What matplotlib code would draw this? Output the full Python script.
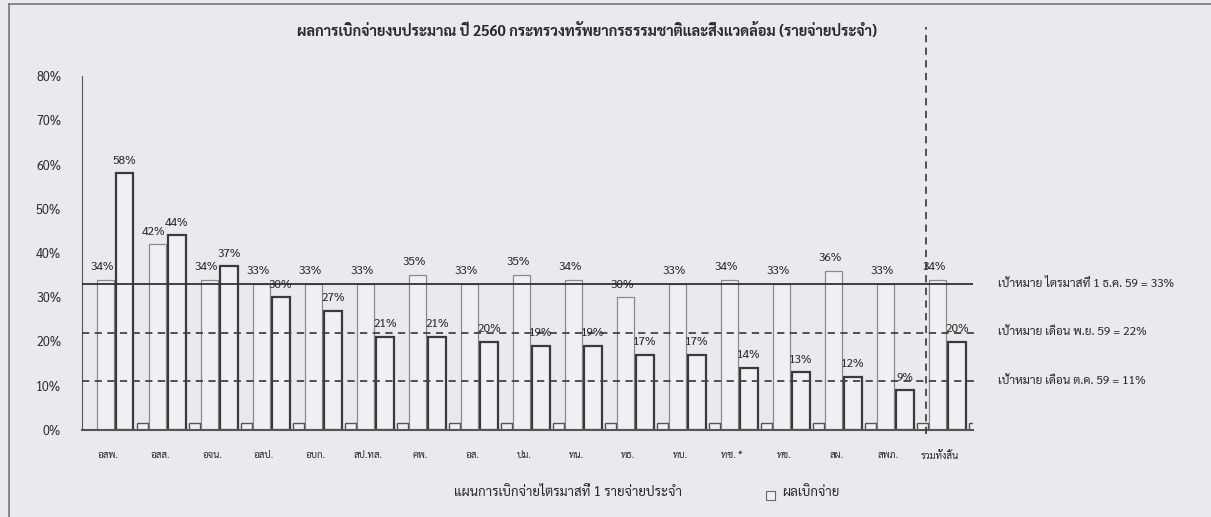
import matplotlib
matplotlib.use("Agg")
import matplotlib.pyplot as plt
import numpy as np
from matplotlib import font_manager
from matplotlib.lines import Line2D
from matplotlib.patches import Rectangle

# agencies (last group is the ministry total)
agencies = ["อสพ.", "อสส.", "อจน.", "อสป.", "อบก.", "สป.ทส.", "คพ.", "อส.",
            "ปม.", "ทน.", "ทธ.", "ทบ.", "ทช. *", "ทข.", "สผ.", "สพภ.",
            "รวมทั้งสิ้น"]
plan_q1 = [34, 42, 34, 33, 33, 33, 35, 33, 35, 34, 30, 33, 34, 33, 36, 33, 34]
spent = [58, 44, 37, 30, 27, 21, 21, 20, 19, 19, 17, 17, 14, 13, 12, 9, 20]
floor_series = [1.5, 1.5, 1.5, 1.5, 1.5, 1.5, 1.5, 1.5, 1.5, 1.5, 1.5, 1.5,
                1.5, 1.5, 1.5, 1.5, 1.5]
targets = [33, 22, 11]
target_labels = ["เป้าหมาย ไตรมาสที่ 1 ธ.ค. 59 = 33%",
                 "เป้าหมาย เดือน พ.ย. 59 = 22%",
                 "เป้าหมาย เดือน ต.ค. 59 = 11%"]
yticks = [0, 10, 20, 30, 40, 50, 60, 70, 80]

BG = "#e9e9ee"


def pick_thai_font():
    names = {f.name for f in font_manager.fontManager.ttflist}
    for name in ["Sarabun", "Noto Sans Thai", "Tahoma", "Bai Jamjuree",
                 "Anuphan"]:
        if name in names:
            return name
    return "DejaVu Sans"


def main():
    plt.rcParams["font.family"] = [pick_thai_font(), "DejaVu Sans"]
    plt.rcParams["text.color"] = "#2a2a2a"
    plt.rcParams["xtick.color"] = "#2a2a2a"
    plt.rcParams["ytick.color"] = "#2a2a2a"

    fig = plt.figure(figsize=(12.11, 5.17), dpi=100, facecolor=BG)
    ax = fig.add_axes([82 / 1211, 87 / 517, 891 / 1211, 354 / 517])
    ax.set_facecolor(BG)

    x = np.arange(len(agencies))
    ax.bar(x - 0.05, plan_q1, width=0.34, facecolor="#f0f0f4",
           edgecolor="#8a8a8a", linewidth=0.9, zorder=2)
    ax.bar(x + 0.32, spent, width=0.34, facecolor="#f0f0f4",
           edgecolor="#3a3a3a", linewidth=1.6, zorder=2)
    ax.bar(x + 0.66, floor_series, width=0.22, facecolor="#f0f0f4",
           edgecolor="#555555", linewidth=1.0, zorder=2)

    for xi, v in zip(x, plan_q1):
        ax.text(xi - 0.12, v + 1.5, "{}%".format(v), ha="center",
                va="bottom", fontsize=8.5, zorder=4)
    for xi, v in zip(x, spent):
        ax.text(xi + 0.32, v + 1.5, "{}%".format(v), ha="center",
                va="bottom", fontsize=8.5, zorder=4)

    # target lines
    ax.axhline(targets[0], color="#333333", linewidth=1.3, zorder=3)
    for t in targets[1:]:
        ax.plot([-0.5, 16.75], [t, t], color="#444444", linewidth=1.3,
                linestyle=(0, (4, 3)), clip_on=False, zorder=3)
    for t, lab in zip(targets, target_labels):
        ax.text(17.12, t, lab, ha="left", va="center", fontsize=8.5)

    # separator before the total
    ax.plot([15.72, 15.72], [-1, 91], color="#444444", linewidth=1.3,
            linestyle=(0, (4, 3)), clip_on=False, zorder=3)

    ax.set_xlim(-0.5, 16.63)
    ax.set_ylim(0, 80)
    ax.set_yticks(yticks)
    ax.set_yticklabels(["{}%".format(v) for v in yticks], fontsize=9)
    ax.set_xticks(x)
    ax.set_xticklabels(agencies, fontsize=7)
    ax.tick_params(axis="both", length=0)
    ax.tick_params(axis="y", pad=15)
    ax.tick_params(axis="x", pad=15)
    for s in ["top", "right"]:
        ax.spines[s].set_visible(False)
    ax.spines["left"].set_color("#555555")
    ax.spines["bottom"].set_color("#555555")
    ax.spines["bottom"].set_linewidth(1.5)

    fig.suptitle("ผลการเบิกจ่ายงบประมาณ ปี 2560 "
                 "กระทรวงทรัพยากรธรรมชาติและสิ่งแวดล้อม (รายจ่ายประจำ)",
                 x=0.485, y=0.955, fontsize=10.5, fontweight="bold")

    # legend
    fig.text(568 / 1211, 1 - 492 / 517,
             "แผนการเบิกจ่ายไตรมาสที่ 1 รายจ่ายประจำ",
             ha="center", va="center", fontsize=9.5)
    fig.add_artist(Rectangle((766 / 1211, 1 - 500 / 517), 9 / 1211, 9 / 517,
                             facecolor="#f0f0f4", edgecolor="#666666",
                             linewidth=0.8))
    fig.text(782 / 1211, 1 - 492 / 517, "ผลเบิกจ่าย", ha="left",
             va="center", fontsize=9.5)

    # outer frame of the scanned chart
    fig.add_artist(Line2D([9 / 1211, 9 / 1211], [0, 1 - 4 / 517],
                          color="#777777", linewidth=1.2))
    fig.add_artist(Line2D([9 / 1211, 1], [1 - 4 / 517, 1 - 4 / 517],
                          color="#777777", linewidth=1.2))

    fig.savefig("out.png", dpi=100, facecolor=BG)


if __name__ == "__main__":
    main()
